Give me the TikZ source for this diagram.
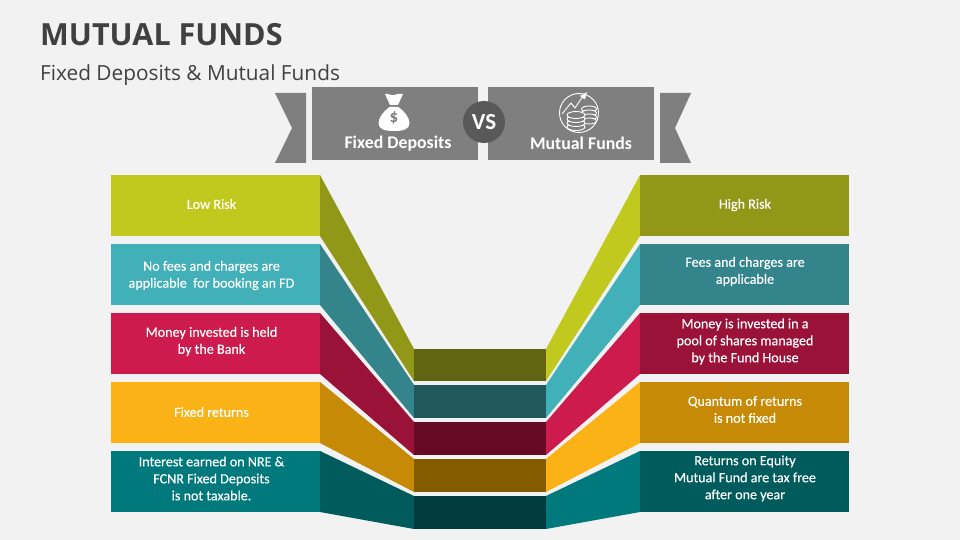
\documentclass[tikz,border=0pt]{standalone}
\usepackage{fontspec}
\setmainfont{Carlito}
\newfontfamily\bodyfont[FakeBold=0.35]{Carlito}
\newfontfamily\titlefont{Open Sans}
\definecolor{bgc}{HTML}{F2F2F2}
\definecolor{hdr}{HTML}{7F7F7F}
\definecolor{vsc}{HTML}{595959}
\definecolor{ttl}{HTML}{404040}
\definecolor{limeA}{HTML}{C1C91F}\definecolor{limeB}{HTML}{919818}\definecolor{limeC}{HTML}{616512}
\definecolor{tealA}{HTML}{41B0B9}\definecolor{tealB}{HTML}{33848B}\definecolor{tealC}{HTML}{20585D}
\definecolor{redA}{HTML}{CD1B4D}\definecolor{redB}{HTML}{9A1238}\definecolor{redC}{HTML}{660A25}
\definecolor{ambA}{HTML}{FBB216}\definecolor{ambB}{HTML}{C68A06}\definecolor{ambC}{HTML}{845C00}
\definecolor{seaA}{HTML}{00797C}\definecolor{seaB}{HTML}{005B5D}\definecolor{seaC}{HTML}{003C3F}
\tikzset{
  boxlabel/.style={text=white,font=\bodyfont\fontsize{14.1}{17}\selectfont,align=center,anchor=center,inner sep=0pt},
  hdrlabel/.style={text=white,font=\fontsize{17.8}{20}\selectfont\bfseries,anchor=center,inner sep=0pt},
  hdrbox/.style={fill=hdr,draw=none},
  iconw/.style={fill=white,draw=none},
  iconl/.style={draw=white,line width=0.9pt,fill=none},
}
\begin{document}
\begin{tikzpicture}[x=1pt,y=-1pt]
\fill[bgc] (0,0) rectangle (960,540);
\useasboundingbox (0,0) rectangle (960,540);
\node[anchor=west,inner sep=0pt,font=\titlefont\bfseries\fontsize{30.5}{36}\selectfont,text=ttl] (title) at (40,34.5) {MUTUAL FUNDS};
\node[anchor=west,inner sep=0pt,font=\titlefont\fontsize{20.8}{24}\selectfont,text=ttl] (subtitle) at (40,75.5) {Fixed Deposits \& Mutual Funds};
% header
\fill[hdr] (275,93) -- (306,93) -- (306,163) -- (275,163) -- (292,128) -- cycle;
\fill[hdr] (691,93) -- (660,93) -- (660,163) -- (691,163) -- (675,128) -- cycle;
\fill[hdrbox] (312,87) rectangle (478,160);
\fill[hdrbox] (488,87) rectangle (654,160);
\fill[vsc] (484,122) circle (21);
\node[text=white,font=\fontsize{23}{24}\selectfont\bfseries,inner sep=0pt] (vs) at (484,122.5) {VS};
\node[hdrlabel] (fd) at (398,143.5) {Fixed Deposits};
\node[hdrlabel] (mf) at (581,143.5) {Mutual Funds};
% bag icon
\fill[iconw] (385,94) .. controls (388,93) and (391,96) .. (394,95) .. controls (397,94) and (400,93) .. (403,94) -- (398,105) -- (390,105) -- cycle;
\fill[iconw] (389.5,107) -- (398.5,107) .. controls (405,112) and (409.5,118) .. (409.5,123) .. controls (409.5,129) and (404,131) .. (394,131) .. controls (384,131) and (378.5,129) .. (378.5,123) .. controls (378.5,118) and (383,112) .. (389.5,107) -- cycle;
\node[text=hdr,font=\fontsize{17}{17}\selectfont\bfseries,inner sep=0pt] (dollar) at (394,118) {\$};
% coins icon
\draw[iconl] (579,113) circle (19.5);
\foreach \yy in {109,113,117,121}{
  \draw[iconl,fill=hdr] (589,\yy) ellipse (7.5 and 3);
}
\foreach \yy in {127,123,119,115}{
  \draw[iconl,fill=hdr] (576,\yy) ellipse (9 and 3.5);
}
\draw[iconl,line join=round] (562,114) -- (571,103) -- (575,108) -- (583,96);
\fill[iconw] (587,92) -- (585,99.5) -- (580,96) -- cycle;
% bands
\foreach \c/\t/\b/\ct/\cb/\ca/\cB/\cC in {
 0/175/236/349/381/limeA/limeB/limeC,
 1/244/305/385/418/tealA/tealB/tealC,
 2/313/374/422/455/redA/redB/redC,
 3/382/443/459/492/ambA/ambB/ambC,
 4/451/512/496/529/seaA/seaB/seaC}{
  \fill[\ca] (111,\t) rectangle (320,\b);
  \fill[\cB] (320,\t) -- (414,\ct) -- (414,\cb) -- (320,\b) -- cycle;
  \fill[\cC] (414,\ct) rectangle (546,\cb);
  \fill[\ca] (546,\ct) -- (640,\t) -- (640,\b) -- (546,\cb) -- cycle;
  \fill[\cB] (640,\t) rectangle (849,\b);
}
\node[boxlabel] (l1) at (211.5,204) {Low Risk};
\node[boxlabel] (l2) at (211.5,275.5) {No fees and charges are\\applicable\ \ for booking an FD};
\node[boxlabel] (l3) at (211.5,341.5) {Money invested is held\\by the Bank};
\node[boxlabel] (l4) at (211.5,412) {Fixed returns};
\node[boxlabel] (l5) at (211.5,478.5) {Interest earned on NRE \&\\FCNR Fixed Deposits\\is not taxable.};
\node[boxlabel] (r1) at (745,205) {High Risk};
\node[boxlabel] (r2) at (745,271.5) {Fees and charges are\\applicable};
\node[boxlabel] (r3) at (745,341.5) {Money is invested in a\\pool of shares managed\\by the Fund House};
\node[boxlabel] (r4) at (745,409.5) {Quantum of returns\\is not fixed};
\node[boxlabel] (r5) at (745,478.5) {Returns on Equity\\Mutual Fund are tax free\\after one year};
\end{tikzpicture}
\end{document}
